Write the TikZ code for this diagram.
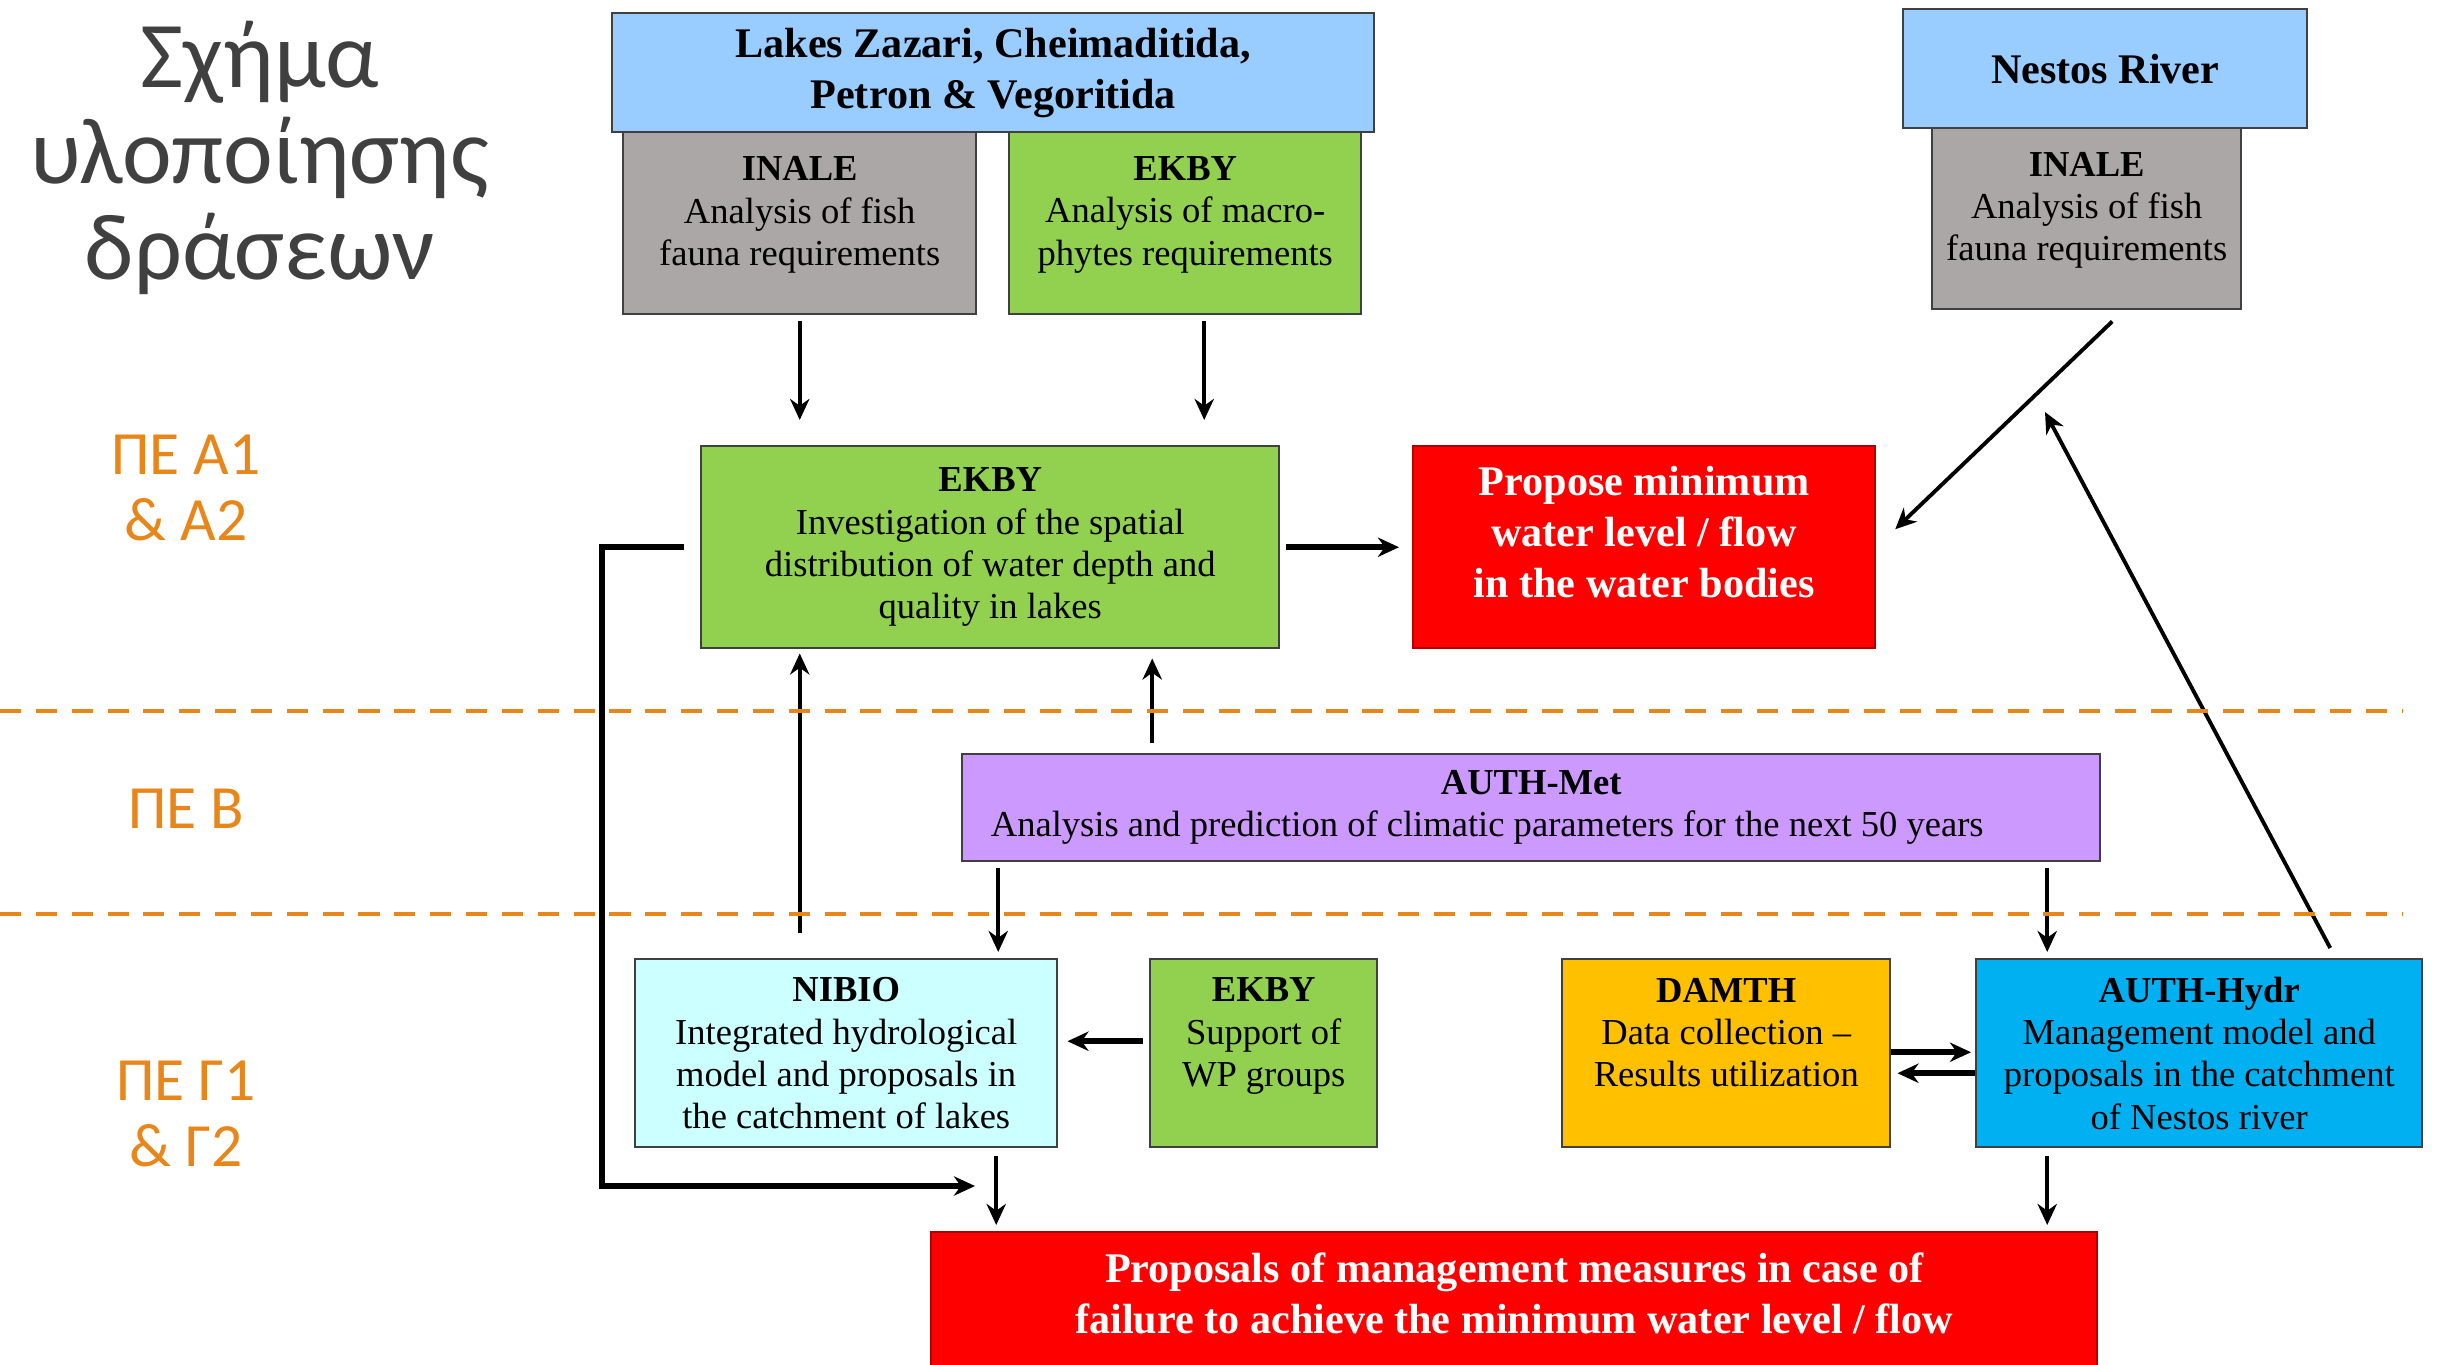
\documentclass[tikz,border=0pt]{standalone}
\usepackage{fontspec}
\setmainfont{Liberation Serif}
\setsansfont{Carlito}
\usepackage{tikz}
\usetikzlibrary{arrows.meta}
\definecolor{lakeblue}{HTML}{99CCFF}
\definecolor{inalegray}{HTML}{ABA7A7}
\definecolor{ekbygreen}{HTML}{92D050}
\definecolor{propred}{HTML}{FF0000}
\definecolor{metpurple}{HTML}{CC99FF}
\definecolor{nibiocyan}{HTML}{CCFFFF}
\definecolor{damthyellow}{HTML}{FFC000}
\definecolor{hydrblue}{HTML}{00B0F0}
\definecolor{peorange}{HTML}{E8861A}
\definecolor{titlegray}{HTML}{404040}
\tikzset{
  box/.style={draw=black!75, line width=0.7pt, align=center, anchor=north west, inner sep=1pt,
    font=\fontsize{10.4}{12}\selectfont},
  bigbox/.style={box, font=\bfseries\fontsize{12}{14.5}\selectfont},
  redbox/.style={bigbox, fill=propred, draw=propred!70!black, text=white},
  qarr/.style={-{Stealth[length=6pt,width=5.5pt]}, line width=1.1pt},
  qarrthick/.style={qarr, line width=1.6pt},
  wpline/.style={draw=peorange, line width=1.4pt, dash pattern=on 6pt off 4.2pt},
  wplabel/.style={text=peorange, align=center, font=\sffamily\fontsize{17.5}{19}\selectfont}
}

\begin{document}
\begin{tikzpicture}[x=1cm, y=1cm]
    \path[fill=white, use as bounding box] (0,0) rectangle (24.38,-13.65);

    \node[text=titlegray, align=center, font=\sffamily\fontsize{26.8}{27.3}\selectfont] (title) at (2.60,-1.58) {Σχήμα\\υλοποίησης\\δράσεων};
    \node[wplabel] (peA) at (1.86,-4.88) {ΠΕ Α1\\\& Α2};
    \node[wplabel] (peB) at (1.86,-8.09) {ΠΕ Β};
    \node[wplabel] (peG) at (1.86,-11.14) {ΠΕ Γ1\\\& Γ2};

    \node[box, fill=inalegray, minimum width=3.53cm, minimum height=1.82cm] (inaleL) at (6.22,-1.31)
      {\textbf{INALE}\\Analysis of fish\\fauna requirements\\[-5pt]~};
    \node[box, fill=ekbygreen, minimum width=3.52cm, minimum height=1.82cm] (ekbyT) at (10.08,-1.31)
      {\textbf{EKBY}\\Analysis of macro-\\phytes requirements\\[-5pt]~};
    \node[bigbox, fill=lakeblue, minimum width=7.62cm, minimum height=1.19cm] (lakes) at (6.11,-0.12)
      {Lakes Zazari, Cheimaditida,\\Petron \& Vegoritida};
    \node[box, fill=inalegray, minimum width=3.09cm, minimum height=1.81cm] (inaleR) at (19.31,-1.27)
      {\textbf{INALE}\\Analysis of fish\\fauna requirements\\[-5pt]~};
    \node[bigbox, fill=lakeblue, minimum width=4.04cm, minimum height=1.19cm] (nestos) at (19.02,-0.08)
      {Nestos River};

    \node[box, fill=ekbygreen, minimum width=5.78cm, minimum height=2.02cm] (ekbyM) at (7.00,-4.45)
      {\textbf{EKBY}\\Investigation of the spatial\\distribution of water depth and\\quality in lakes};
    \node[redbox, minimum width=4.62cm, minimum height=2.02cm] (propose) at (14.12,-4.45)
      {Propose minimum\\water level / flow\\in the water bodies\\[-6pt]~};

    \node[box, fill=metpurple, minimum width=11.38cm, minimum height=1.07cm] (met) at (9.61,-7.53)
      {\textbf{AUTH-Met}\\Analysis and prediction of climatic parameters for the next 50 years\hspace*{0.88cm}};

    \node[box, fill=nibiocyan, minimum width=4.22cm, minimum height=1.88cm] (nibio) at (6.34,-9.58)
      {\textbf{NIBIO}\\Integrated hydrological\\model and proposals in\\the catchment of lakes};
    \node[box, fill=ekbygreen, minimum width=2.27cm, minimum height=1.88cm] (sup) at (11.49,-9.58)
      {\textbf{EKBY}\\Support of\\WP groups\\~};
    \node[box, fill=damthyellow, minimum width=3.28cm, minimum height=1.88cm] (damth) at (15.61,-9.58)
      {\textbf{DAMTH}\\Data collection –\\Results utilization\\~};
    \node[box, fill=hydrblue, minimum width=4.46cm, minimum height=1.88cm] (hydr) at (19.75,-9.58)
      {\textbf{AUTH-Hydr}\\Management model and\\proposals in the catchment\\of Nestos river};

    \node[redbox, minimum width=11.66cm, minimum height=1.38cm] (proposals) at (9.30,-12.31)
      {Proposals of management measures in case of\\failure to achieve the minimum water level / flow\\[-10pt]~};

    \coordinate (hydrtip) at (20.45,-4.12);
    \coordinate (loopend) at (9.75,-11.86);

    \draw[qarr, shorten <=0.06cm, shorten >=0.25cm] (inaleL.south) -- (inaleL.south |- ekbyM.north);
    \draw[qarr, shorten <=0.06cm, shorten >=0.25cm] ([xshift=0.19cm]ekbyT.south) -- ([xshift=0.19cm]ekbyT.south |- ekbyM.north);
    \draw[qarr, shorten >=0.26cm] ([xshift=0.255cm,yshift=-0.11cm]inaleR.south) -- (propose.east);
    \draw[qarr] ([xshift=1.31cm,yshift=0.10cm]hydr.north) -- (hydrtip);
    \draw[qarrthick, shorten <=0.06cm, shorten >=0.13cm] (ekbyM.east) -- (propose.west);
    \draw[qarr, shorten <=0.1cm, shorten >=0.09cm] ([xshift=1.62cm]ekbyM.south |- met.north) -- ([xshift=1.62cm]ekbyM.south);
    \draw[qarr, shorten <=0.25cm, shorten >=0.04cm] (inaleL.south |- nibio.north) -- (inaleL.south |- ekbyM.south);
    \draw[qarrthick] ([xshift=-0.16cm]ekbyM.west) -- ++(-0.82,0) |- (loopend);
    \draw[qarr, shorten <=0.06cm, shorten >=0.06cm] ([xshift=1.52cm]nibio.north |- met.south) -- ([xshift=1.52cm]nibio.north);
    \draw[qarr, shorten <=0.06cm, shorten >=0.06cm] ([xshift=-1.52cm]hydr.north |- met.south) -- ([xshift=-1.52cm]hydr.north);
    \draw[qarrthick, shorten <=0.06cm, shorten >=0.09cm] ([yshift=0.12cm]sup.west) -- ([yshift=0.12cm]sup.west -| nibio.east);
    \draw[qarrthick, shorten >=0.04cm] ([yshift=0.01cm]damth.east) -- ([yshift=0.01cm]damth.east -| hydr.west);
    \draw[qarrthick, shorten >=0.06cm] ([yshift=-0.2cm]hydr.west) -- ([yshift=-0.2cm]hydr.west -| damth.east);
    \draw[qarr, shorten <=0.08cm, shorten >=0.06cm] ([xshift=1.5cm]nibio.south) -- ([xshift=1.5cm]nibio.south |- proposals.north);
    \draw[qarr, shorten <=0.08cm, shorten >=0.06cm] ([xshift=-1.52cm]hydr.south) -- ([xshift=-1.52cm]hydr.south |- proposals.north);

    \draw[wpline] (0,-7.11) -- (24.02,-7.11);
    \draw[wpline] (0,-9.14) -- (24.02,-9.14);
\end{tikzpicture}
\end{document}
